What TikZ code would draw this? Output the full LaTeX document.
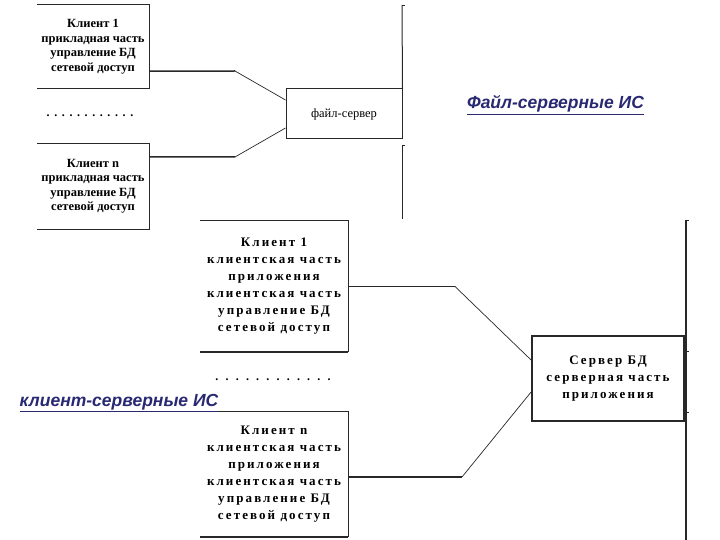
\documentclass[tikz,border=0pt]{standalone}
\usepackage{fontspec}
\setmainfont{Liberation Serif}
\setsansfont{Liberation Sans}
\definecolor{labnavy}{RGB}{40,40,115}
\definecolor{linegray}{RGB}{40,40,40}
\begin{document}
\begin{tikzpicture}[x=1pt,y=-1pt,
  boxline/.style={draw=linegray,line width=1pt},
  thinline/.style={draw=linegray,line width=0.7pt},
  thickline/.style={draw=linegray,line width=1.5pt},
  tbox/.style={inner sep=0pt,align=center,font=\fontsize{12.5}{14.5}\selectfont\bfseries},
  csbox/.style={inner sep=0pt,align=center,font=\fontsize{13}{17}\selectfont\bfseries\addfontfeature{LetterSpace=16}},
  islabel/.style={inner sep=0pt,text=labnavy,font=\fontsize{17.5}{20}\selectfont\sffamily\bfseries\itshape},
  dotrow/.style={inner sep=0pt,font=\fontsize{12}{14}\selectfont\bfseries}
]
\useasboundingbox (0,0) rectangle (720,540);
\fill[white] (0,0) rectangle (720,540);

% ---------- file-server part ----------
\node[tbox,minimum width=112,minimum height=83] (fc1) at (93,46.5)
  {Клиент 1\\прикладная часть\\управление БД\\сетевой доступ};
\draw[boxline] (fc1.north west) -- (fc1.north east) -- (fc1.south east) -- (fc1.south west);

\node[tbox,minimum width=112,minimum height=85] (fcn) at (93,186.5)
  {Клиент n\\прикладная часть\\управление БД\\сетевой доступ};
\draw[boxline] (fcn.north west) -- (fcn.north east) -- (fcn.south east) -- (fcn.south west);

\node[dotrow] (fdots) at (90,116) {.\hspace{4.6pt}.\hspace{4.6pt}.\hspace{4.6pt}.\hspace{4.6pt}.\hspace{4.6pt}.\hspace{4.6pt}.\hspace{4.6pt}.\hspace{4.6pt}.\hspace{4.6pt}.\hspace{4.6pt}.\hspace{4.6pt}.};

\node[draw=linegray,line width=1pt,minimum width=116,minimum height=50,inner sep=0pt,
      font=\fontsize{12.5}{14.5}\selectfont] (fs) at (344,114) {файл-сервер};

\coordinate (fb1) at (235,71);
\coordinate (fb2) at (235,157);
\draw[thickline] ([yshift=17pt]fc1.south east) -- (fb1);
\draw[thinline] (fb1) -- ([yshift=14pt]fs.west);
\draw[thickline] ([yshift=-13pt]fcn.north east) -- (fb2);
\draw[thinline] (fb2) -- ([yshift=-14pt]fs.west);

\coordinate (v1a) at (402,5);
\coordinate (v1b) at (402,145);
\coordinate (v1c) at (402,219);
\draw[boxline] (v1a) -- (fs.north east);
\draw[boxline] (v1b) -- (v1c);
\draw[thinline] (v1a) -- ++(3,0);
\draw[thinline] (v1b) -- ++(3,0);

\node[islabel] (fslab) at (555.5,105) {\underline{Файл-серверные ИС}};

% ---------- client-server part ----------
\node[csbox,minimum width=148,minimum height=131] (cs1) at (274,286.5)
  {Клиент 1\\клиентская часть\\приложения\\клиентская часть\\управление БД\\сетевой доступ};
\draw[boxline] (cs1.north west) -- (cs1.north east) -- (cs1.south east);
\draw[thickline] (cs1.south east) -- (cs1.south west);

\node[csbox,minimum width=148,minimum height=125] (csn) at (274,474.5)
  {Клиент n\\клиентская часть\\приложения\\клиентская часть\\управление БД\\сетевой доступ};
\draw[boxline] (csn.north west) -- (csn.north east) -- (csn.south east);
\draw[thickline] (csn.south east) -- (csn.south west);

\node[dotrow] (csdots) at (273,380) {.\hspace{7.2pt}.\hspace{7.2pt}.\hspace{7.2pt}.\hspace{7.2pt}.\hspace{7.2pt}.\hspace{7.2pt}.\hspace{7.2pt}.\hspace{7.2pt}.\hspace{7.2pt}.\hspace{7.2pt}.\hspace{7.2pt}.};

\node[csbox,draw=linegray,line width=1.8pt,minimum width=152,minimum height=85] (srv) at (608,378.5)
  {Сервер БД\\серверная часть\\приложения};

\coordinate (cb1) at (455,286.5);
\coordinate (cb2) at (462,477);
\draw[thickline] (cs1.east) -- (cb1);
\draw[thinline] (cb1) -- ([yshift=18.5pt]srv.west);
\draw[thickline] ([yshift=-2.5pt]csn.east) -- (cb2);
\draw[thinline] (cb2) -- ([yshift=-13.5pt]srv.west);

\coordinate (v2a) at (686,220);
\coordinate (v2b) at (686,540);
\draw[thickline] (v2a) -- (v2b);
\draw[thinline] (v2a) -- ++(3,0);
\draw[thinline] (686,351) -- ++(3,0);
\draw[thinline] (686,412) -- ++(3,0);

\node[islabel] (cslab) at (119,403) {\underline{клиент-серверные ИС}};
\end{tikzpicture}
\end{document}
